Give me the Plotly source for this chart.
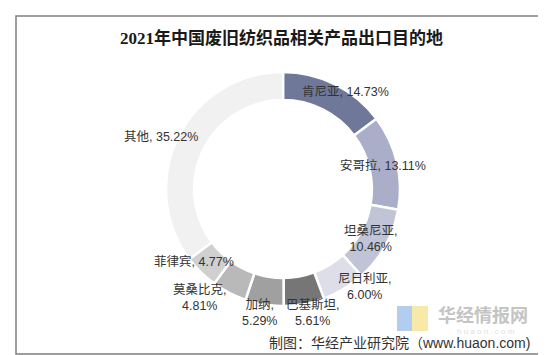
import math
import plotly.graph_objects as go

# ---- data ----
countries = ["肯尼亚", "安哥拉", "坦桑尼亚", "尼日利亚", "巴基斯坦", "加纳", "莫桑比克", "菲律宾", "其他"]
shares = [14.73, 13.11, 10.46, 6.00, 5.61, 5.29, 4.81, 4.77, 35.22]
title_text = "2021年中国废旧纺织品相关产品出口目的地"
source_text = "制图：华经产业研究院（www.huaon.com)"
logo_text = "华经情报网"
logo_sub = "h u a o n . c o m"

# ---- style ----
colors = ["#6f7899", "#aaaec8", "#c1c4d7", "#dddee8", "#767676",
          "#a0a0a0", "#b9b9b9", "#d0d0d0", "#f1f1f1"]
wrap = [False, False, True, True, True, True, True, False, False]
# label nudges (px) relative to ring middle at slice mid-angle
nudge = [(17, -5), (0, 0), (-3, 0), (28, 10), (11, 23), (-7, 22), (-36, 18), (-17, -1), (-30, -6)]

W, H = 546, 355
L, T, S = 158, 64, 234  # plot area left, top, size (square)
cx, cy = L + S / 2, T + S / 2
R_outer = S / 2
hole = 0.76
R_mid = R_outer * (1 + hole) / 2


def px2paper(x, y):
    return (x - L) / S, (T + S - y) / S


fig = go.Figure(go.Pie(
    labels=countries, values=shares, sort=False, direction="clockwise",
    rotation=0, hole=hole, textinfo="none", hoverinfo="label+value",
    marker=dict(colors=colors, line=dict(color="white", width=2.5)),
    showlegend=False,
))

annotations = []
total = sum(shares)
cum = 0.0
for name, v, wr, (dx, dy) in zip(countries, shares, wrap, nudge):
    mid = (cum + v / 2) / total * 2 * math.pi
    cum += v
    x = cx + R_mid * math.sin(mid) + dx
    y = cy - R_mid * math.cos(mid) + dy
    xp, yp = px2paper(x, y)
    sep = ",<br>" if wr else ", "
    annotations.append(dict(
        x=xp, y=yp, xref="paper", yref="paper", showarrow=False,
        text=f"{name}{sep}{v:.2f}%", xanchor="center", yanchor="middle",
        font=dict(family="Liberation Sans, Noto Sans CJK SC", size=12.5, color="#333333"),
    ))

# title
tx, ty = px2paper(273, 30)
annotations.append(dict(
    x=tx, y=ty, xref="paper", yref="paper", showarrow=False,
    text=f"<b>{title_text}</b>", xanchor="center", yanchor="middle",
    font=dict(family="Liberation Serif, Noto Sans CJK SC", size=17, color="#1a1a1a"),
))
# watermark logo text
lx, ly = px2paper(475, 306)
annotations.append(dict(
    x=lx, y=ly, xref="paper", yref="paper", showarrow=False, borderpad=0,
    text=f"<b>{logo_text}</b>", xanchor="center", yanchor="middle",
    font=dict(family="Noto Sans CJK SC", size=18, color="#c4c4c4"),
))
wx, wy = px2paper(478, 323)
annotations.append(dict(
    x=wx, y=wy, xref="paper", yref="paper", showarrow=False, borderpad=0,
    text=logo_sub, xanchor="center", yanchor="middle",
    font=dict(family="Liberation Sans", size=8, color="#e0e0e0"),
))
# source
sx, sy = px2paper(523, 335)
annotations.append(dict(
    x=sx, y=sy, xref="paper", yref="paper", showarrow=False, borderpad=0,
    text=source_text, xanchor="right", yanchor="middle",
    font=dict(family="Liberation Sans, Noto Sans CJK SC", size=14, color="#333333"),
))

shapes = []
bx0, by0 = px2paper(8, 346)
bx1, by1 = px2paper(537, 8)
shapes.append(dict(type="rect", xref="paper", yref="paper", x0=bx0, y0=by0, x1=bx1, y1=by1,
                   line=dict(color="#7f7f7f", width=1.5), fillcolor="rgba(0,0,0,0)", layer="below"))
# book icon
ix0, iy0 = px2paper(389, 323)
ixm, _ = px2paper(404, 0)
ix1, iy1 = px2paper(420, 298)
shapes.append(dict(type="rect", xref="paper", yref="paper", x0=ix0, y0=iy0, x1=ixm, y1=iy1,
                   line=dict(width=0), fillcolor="#b3cdf0", layer="below"))
shapes.append(dict(type="rect", xref="paper", yref="paper", x0=ixm, y0=iy0, x1=ix1, y1=iy1,
                   line=dict(width=0), fillcolor="#f7e9a8", layer="below"))

fig.update_layout(
    width=W, height=H,
    margin=dict(l=L, r=W - L - S, t=T, b=H - T - S),
    paper_bgcolor="white", plot_bgcolor="white",
    annotations=annotations, shapes=shapes,
)

fig.write_html("out.html")
